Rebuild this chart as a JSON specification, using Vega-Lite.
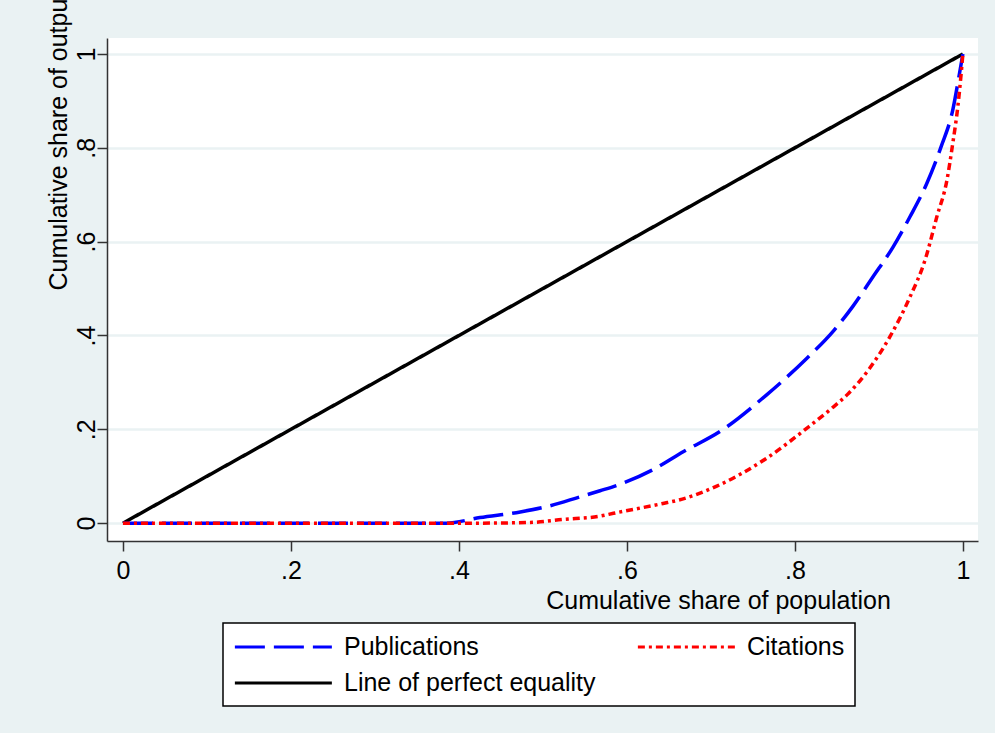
{
  "$schema": "https://vega.github.io/schema/vega-lite/v6.json",
  "width": 871,
  "height": 503,
  "autosize": {"type": "none"},
  "padding": {"left": 107, "top": 38, "right": 17, "bottom": 192},
  "background": "#EAF2F3",
  "config": {
    "view": {"stroke": null, "fill": "white"},
    "font": "Liberation Sans"
  },
  "data": {
    "values": [
      {"series": "Line of perfect equality", "x": 0, "y": 0},
      {"series": "Line of perfect equality", "x": 1, "y": 1},
      {"series": "Publications", "x": 0, "y": 0},
      {"series": "Publications", "x": 0.385, "y": 0},
      {"series": "Publications", "x": 0.425, "y": 0.012},
      {"series": "Publications", "x": 0.473, "y": 0.024},
      {"series": "Publications", "x": 0.504, "y": 0.035},
      {"series": "Publications", "x": 0.544, "y": 0.056},
      {"series": "Publications", "x": 0.568, "y": 0.069},
      {"series": "Publications", "x": 0.592, "y": 0.083},
      {"series": "Publications", "x": 0.63, "y": 0.113},
      {"series": "Publications", "x": 0.667, "y": 0.152},
      {"series": "Publications", "x": 0.713, "y": 0.198},
      {"series": "Publications", "x": 0.766, "y": 0.273},
      {"series": "Publications", "x": 0.814, "y": 0.351},
      {"series": "Publications", "x": 0.846, "y": 0.41},
      {"series": "Publications", "x": 0.869, "y": 0.462},
      {"series": "Publications", "x": 0.893, "y": 0.525},
      {"series": "Publications", "x": 0.917, "y": 0.589},
      {"series": "Publications", "x": 0.937, "y": 0.653},
      {"series": "Publications", "x": 0.957, "y": 0.724},
      {"series": "Publications", "x": 0.974, "y": 0.802},
      {"series": "Publications", "x": 0.988, "y": 0.881},
      {"series": "Publications", "x": 0.996, "y": 0.959},
      {"series": "Publications", "x": 1, "y": 1},
      {"series": "Citations", "x": 0, "y": 0},
      {"series": "Citations", "x": 0.42, "y": 0},
      {"series": "Citations", "x": 0.485, "y": 0.0015},
      {"series": "Citations", "x": 0.524, "y": 0.008},
      {"series": "Citations", "x": 0.568, "y": 0.015},
      {"series": "Citations", "x": 0.584, "y": 0.021},
      {"series": "Citations", "x": 0.643, "y": 0.042},
      {"series": "Citations", "x": 0.661, "y": 0.049},
      {"series": "Citations", "x": 0.707, "y": 0.079},
      {"series": "Citations", "x": 0.766, "y": 0.138},
      {"series": "Citations", "x": 0.814, "y": 0.202},
      {"series": "Citations", "x": 0.846, "y": 0.248},
      {"series": "Citations", "x": 0.863, "y": 0.275},
      {"series": "Citations", "x": 0.889, "y": 0.33},
      {"series": "Citations", "x": 0.913, "y": 0.397},
      {"series": "Citations", "x": 0.937, "y": 0.482},
      {"series": "Citations", "x": 0.955, "y": 0.561},
      {"series": "Citations", "x": 0.969, "y": 0.653},
      {"series": "Citations", "x": 0.981, "y": 0.731},
      {"series": "Citations", "x": 0.988, "y": 0.81},
      {"series": "Citations", "x": 0.994, "y": 0.888},
      {"series": "Citations", "x": 0.998, "y": 0.959},
      {"series": "Citations", "x": 1, "y": 1}
    ]
  },
  "mark": {"type": "line", "strokeWidth": 3.5, "clip": true, "interpolate": "monotone"},
  "encoding": {
    "x": {
      "field": "x",
      "type": "quantitative",
      "scale": {"domain": [-0.019, 1.018], "nice": false, "zero": false},
      "axis": {
        "values": [0, 0.2, 0.4, 0.6, 0.8, 1],
        "labelExpr": "datum.value == 0 ? '0' : datum.value == 1 ? '1' : replace(format(datum.value, '.1f'), '0.', '.')",
        "grid": false,
        "domainColor": "#333333",
        "domainWidth": 1.5,
        "tickColor": "#333333",
        "tickWidth": 1.5,
        "tickSize": 10,
        "labelFont": "Liberation Sans",
        "labelFontSize": 25,
        "labelColor": "black",
        "labelPadding": 7,
        "labelFlush": false,
        "labelOverlap": false,
        "title": "Cumulative share of population",
        "titleFont": "Liberation Sans",
        "titleFontSize": 25,
        "titleFontWeight": "normal",
        "titleColor": "black",
        "titleX": 611,
        "titleY": 67,
        "titleAlign": "center",
        "titleBaseline": "alphabetic"
      }
    },
    "y": {
      "field": "y",
      "type": "quantitative",
      "scale": {"domain": [-0.038, 1.034], "nice": false, "zero": false},
      "axis": {
        "values": [0, 0.2, 0.4, 0.6, 0.8, 1],
        "labelExpr": "datum.value == 0 ? '0' : datum.value == 1 ? '1' : replace(format(datum.value, '.1f'), '0.', '.')",
        "grid": true,
        "gridColor": "#EAF2F3",
        "gridWidth": 2.5,
        "domainColor": "#333333",
        "domainWidth": 1.5,
        "tickColor": "#333333",
        "tickWidth": 1.5,
        "tickSize": 10,
        "labelFont": "Liberation Sans",
        "labelFontSize": 25,
        "labelColor": "black",
        "labelAngle": -90,
        "labelAlign": "center",
        "labelBaseline": "alphabetic",
        "labelPadding": 3,
        "labelFlush": false,
        "labelOverlap": false,
        "title": "Cumulative share of output",
        "titleFont": "Liberation Sans",
        "titleFontSize": 25,
        "titleFontWeight": "normal",
        "titleColor": "black",
        "titleAngle": -90,
        "titleX": -41,
        "titleY": 252,
        "titleAlign": "left",
        "titleBaseline": "alphabetic"
      }
    },
    "color": {
      "field": "series",
      "type": "nominal",
      "scale": {
        "domain": ["Publications", "Citations", "Line of perfect equality"],
        "range": ["#0000FF", "#FF0000", "#000000"]
      },
      "legend": {
        "title": null,
        "orient": "none",
        "direction": "horizontal",
        "legendX": 116,
        "legendY": 585,
        "columns": 2,
        "columnPadding": 35,
        "rowPadding": 9,
        "padding": 10,
        "fillColor": "white",
        "strokeColor": "black",
        "symbolType": "M-1,0H7",
        "symbolSize": 588,
        "symbolStrokeWidth": 3,
        "labelFont": "Liberation Sans",
        "labelFontSize": 25,
        "labelColor": "black",
        "labelOffset": 83,
        "labelLimit": 400,
        "encode": {"legend": {"update": {"strokeWidth": {"value": 1.5}}}}
      }
    },
    "strokeDash": {
      "field": "series",
      "type": "nominal",
      "scale": {
        "domain": ["Publications", "Citations", "Line of perfect equality"],
        "range": [[30, 9], [7, 4, 3, 4], [1, 0]]
      },
      "legend": null
    }
  }
}
